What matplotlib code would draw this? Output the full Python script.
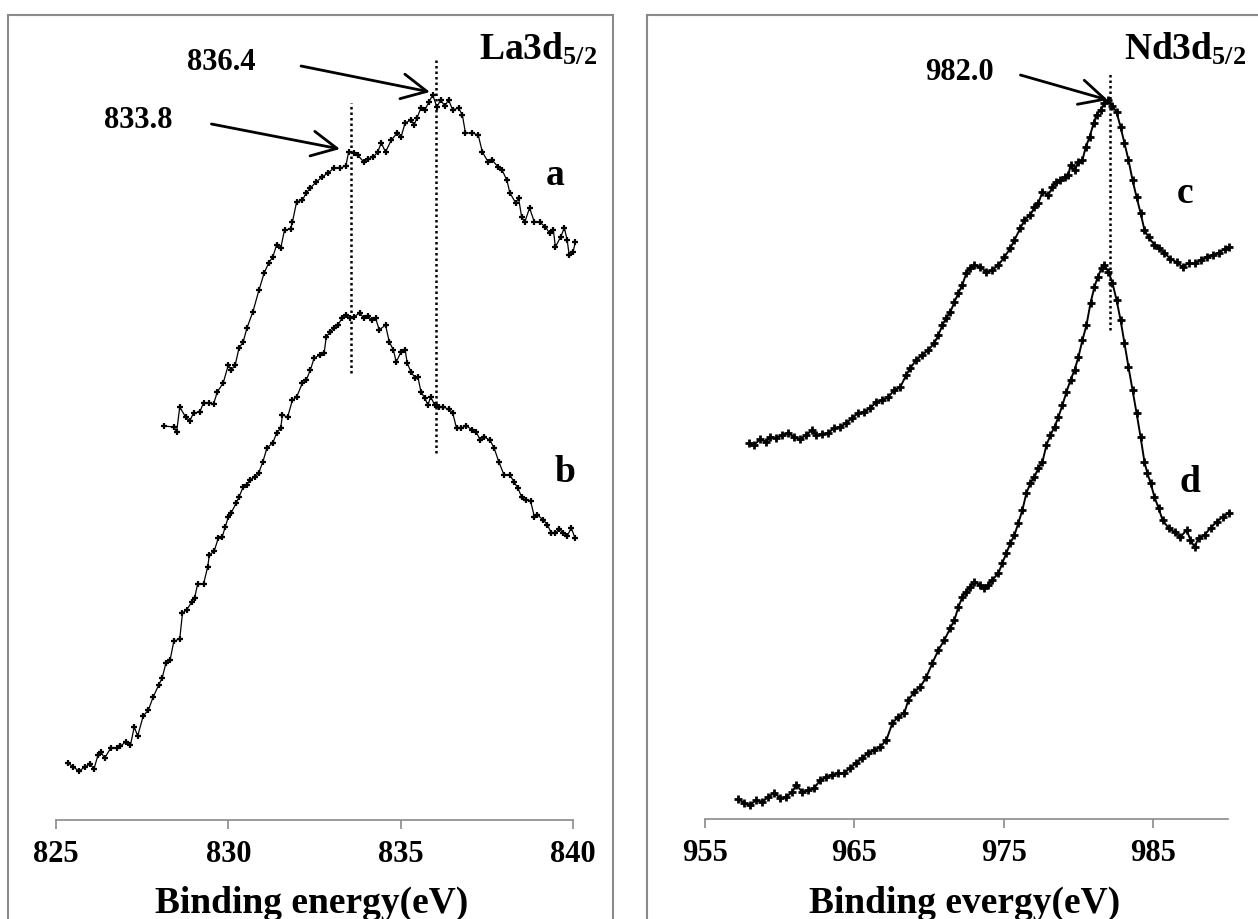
import matplotlib
matplotlib.use("Agg")
import matplotlib.pyplot as plt
from matplotlib.patches import Rectangle

plt.rcParams['font.family'] = ['Liberation Serif', 'DejaVu Serif']
plt.rcParams['font.weight'] = 'bold'
plt.rcParams['mathtext.fontset'] = 'custom'
plt.rcParams['mathtext.rm'] = 'Liberation Serif:bold'
plt.rcParams['mathtext.it'] = 'Liberation Serif:bold'
plt.rcParams['mathtext.bf'] = 'Liberation Serif:bold'

# La3d5/2 spectra, binding energy (eV) and intensity (a.u.)
la_a_e = [828.13, 828.42, 828.50, 828.59, 828.76, 828.88, 828.99, 829.17, 829.28, 829.45,
          829.57, 829.68, 829.85, 830.00, 830.08, 830.20, 830.31, 830.43, 830.54, 830.71,
          830.89, 831.04, 831.17, 831.29, 831.40, 831.52, 831.63, 831.81, 831.86, 831.98,
          832.15, 832.26, 832.38, 832.55, 832.72, 832.89, 833.07, 833.24, 833.41, 833.49,
          833.64, 833.75, 833.93, 834.04, 834.21, 834.33, 834.44, 834.56, 834.73, 834.90,
          835.01, 835.13, 835.30, 835.39, 835.47, 835.59, 835.70, 835.82, 835.93, 836.05,
          836.16, 836.28, 836.39, 836.51, 836.68, 836.79, 836.88, 837.08, 837.25, 837.37,
          837.54, 837.65, 837.83, 837.94, 838.08, 838.17, 838.34, 838.42, 838.51, 838.60,
          838.74, 838.88, 839.03, 839.20, 839.32, 839.43, 839.49, 839.64, 839.75, 839.83,
          839.89, 840.00, 840.07]
la_a_i = [394, 393, 388, 413, 403, 399, 407, 408, 417, 417,
          416, 428, 437, 455, 450, 455, 472, 478, 492, 508,
          530, 547, 557, 563, 575, 572, 590, 591, 598, 618,
          620, 627, 632, 638, 643, 647, 652, 652, 654, 668,
          667, 665, 658, 661, 663, 668, 677, 668, 680, 687,
          683, 697, 700, 695, 702, 712, 710, 718, 725, 713,
          720, 714, 720, 710, 712, 705, 687, 687, 685, 668,
          658, 660, 653, 650, 640, 627, 617, 622, 603, 598,
          612, 598, 598, 593, 587, 590, 573, 583, 592, 580,
          565, 568, 578]

la_b_e = [825.35, 825.50, 825.67, 825.84, 825.99, 826.10, 826.22, 826.30, 826.41, 826.59,
          826.76, 826.87, 827.02, 827.16, 827.27, 827.37, 827.53, 827.68, 827.82, 827.98,
          828.08, 828.19, 828.31, 828.42, 828.59, 828.67, 828.79, 828.94, 829.02, 829.11,
          829.28, 829.40, 829.45, 829.59, 829.71, 829.82, 829.91, 830.00, 830.08, 830.23,
          830.31, 830.43, 830.54, 830.62, 830.77, 830.88, 831.00,
          831.12, 831.29, 831.40, 831.52, 831.57, 831.72, 831.86, 831.98, 832.15, 832.26,
          832.38, 832.49, 832.66, 832.78, 832.84, 832.95, 833.07, 833.18, 833.30, 833.41,
          833.52, 833.64, 833.81, 833.93, 834.04, 834.16, 834.27, 834.38, 834.56, 834.67,
          834.79, 834.87, 835.01, 835.13, 835.19, 835.30, 835.42, 835.50, 835.59, 835.70,
          835.79, 835.87, 835.99, 836.10, 836.22, 836.39, 836.51, 836.62, 836.74, 836.91,
          837.08, 837.19, 837.31, 837.42, 837.59, 837.71,
          837.85, 838.00, 838.17, 838.29, 838.40, 838.51, 838.63, 838.77, 838.88, 838.97,
          839.14, 839.26, 839.37, 839.49, 839.60, 839.72, 839.83, 839.95, 840.06]
la_b_i = [57, 53, 49, 53, 56, 51, 65, 68, 62, 72,
          72, 74, 78, 75, 93, 84, 104, 110, 123, 135,
          142, 157, 160, 179, 181, 207, 210, 218, 222, 236,
          236, 253, 265, 269, 282, 283, 293, 303, 307, 317,
          323, 333, 335, 340, 343, 347, 358,
          372, 377, 387, 392, 405, 403, 420, 423, 437, 440,
          450, 462, 465, 467, 483, 488, 492, 495, 502, 505,
          502, 503, 507, 502, 504, 500, 502, 490, 495, 478,
          470, 458, 468, 470, 457, 448, 442, 443, 428, 422,
          415, 423, 415, 413, 413, 411, 407, 392, 392, 394,
          390, 388, 380, 383, 380, 372,
          358, 345, 345, 338, 332, 323, 320, 319, 303, 305,
          300, 295, 287, 287, 291, 287, 284, 292, 282]

# Nd3d5/2 spectra
nd_c_e = [957.97, 958.29, 958.70, 959.10, 959.37, 959.77, 960.17, 960.57, 960.97, 961.38,
          961.78, 962.18, 962.45, 962.85, 963.25, 963.65, 964.05, 964.46, 964.86, 965.26,
          965.66, 966.06, 966.47, 966.87, 967.27, 967.67, 968.07, 968.47, 968.74, 969.14,
          969.55, 969.95, 970.35, 970.62, 970.89, 971.15, 971.42, 971.69, 971.96, 972.22,
          972.49, 972.76, 973.03, 973.43, 973.83, 974.23, 974.64, 975.04, 975.44, 975.71,
          976.11, 976.38, 976.78, 977.05, 977.31, 977.58, 977.98, 978.25, 978.52, 978.79,
          979.06, 979.32, 979.46, 979.73, 979.99, 980.26, 980.48, 980.74, 981.01, 981.20,
          981.47, 981.73, 982.00, 982.27, 982.54, 982.81, 983.07, 983.34, 983.61, 983.88,
          984.15, 984.41, 984.68, 985.08, 985.35, 985.75, 986.15, 986.56, 986.96, 987.36,
          987.76, 988.16, 988.57, 988.97, 989.37, 989.77, 990.04]
nd_c_i = [376, 374, 380, 377, 382, 381, 384, 386, 382, 380,
          384, 389, 384, 385, 386, 391, 392, 396, 401, 406,
          407, 411, 417, 419, 422, 429, 432, 444, 451, 459,
          464, 469, 476, 484, 494, 501, 507, 517, 526, 534,
          546, 551, 554, 552, 547, 549, 554, 562, 571, 579,
          591, 599, 604, 612, 616, 627, 624, 632, 637, 639,
          642, 644, 654, 649, 657, 659, 672, 682, 696, 704,
          709, 716, 719, 713, 707, 692, 676, 659, 639, 622,
          606, 589, 582, 574, 571, 566, 560, 557, 552, 556,
          556, 559, 562, 564, 566, 570, 572]

nd_d_e = [957.22, 957.63, 958.03, 958.43, 958.83, 959.23, 959.63, 960.04, 960.44, 960.84,
          961.11, 961.51, 961.91, 962.31, 962.72, 963.12, 963.52, 963.92, 964.32, 964.72,
          965.13, 965.53, 965.93, 966.33, 966.73, 967.14, 967.54, 967.94, 968.34, 968.61,
          969.01, 969.41, 969.81, 970.22, 970.62, 971.02, 971.42, 971.69, 971.96, 972.22,
          972.49, 972.76, 973.03, 973.43, 973.70, 973.97, 974.23, 974.64, 974.90, 975.17,
          975.44, 975.71, 975.97, 976.24, 976.51, 976.78, 977.05, 977.31, 977.58, 977.85,
          978.12, 978.39, 978.65, 978.92, 979.19, 979.46, 979.73, 979.99, 980.26, 980.53,
          980.80, 981.06, 981.28, 981.55, 981.73, 982.00, 982.27, 982.54, 982.81, 983.07,
          983.34, 983.61, 983.88, 984.15, 984.41, 984.60, 984.82, 985.08, 985.35, 985.62,
          986.02, 986.42, 986.82, 987.23, 987.49, 987.76, 988.03, 988.43, 988.83, 989.24,
          989.64, 990.04]
nd_d_i = [20, 16, 14, 19, 17, 22, 26, 21, 22, 27,
          34, 27, 29, 31, 39, 42, 44, 46, 46, 51,
          56, 61, 66, 69, 72, 79, 96, 102, 106, 119,
          127, 132, 142, 156, 169, 179, 191, 199, 212, 222,
          227, 232, 237, 234, 231, 234, 239, 246, 256, 266,
          276, 284, 296, 309, 326, 336, 342, 351, 357, 374,
          384, 392, 402, 414, 427, 439, 449, 462, 479, 494,
          516, 532, 542, 551, 554, 547, 536, 519, 499, 476,
          452, 429, 406, 382, 357, 346, 336, 322, 311, 299,
          291, 287, 282, 289, 279, 272, 281, 284, 291, 297,
          302, 306]

la_ticks = [825, 830, 835, 840]
nd_ticks = [955, 965, 975, 985]

GREY = '#8a8a8a'
W, H = 1258, 919
fig = plt.figure(figsize=(W / 100, H / 100), dpi=100)


def px_box(x0, x1, y_bot, y_top):
    return [x0 / W, 1 - y_bot / H, (x1 - x0) / W, (y_bot - y_top) / H]


def style_axis(ax, xlim, ticks, ytop):
    ax.set_xlim(*xlim)
    ax.set_ylim(0, ytop)
    for side in ('left', 'right', 'top'):
        ax.spines[side].set_visible(False)
    ax.spines['bottom'].set_color(GREY)
    ax.spines['bottom'].set_linewidth(1.2)
    ax.set_yticks([])
    ax.set_xticks(ticks)
    ax.tick_params(axis='x', direction='out', length=6.5, width=1.2, color=GREY,
                   pad=8, labelsize=22)
    ax.patch.set_visible(False)


def spectrum(ax, e, i, lw=0.9, ms=5, mew=1.6):
    ax.plot(e, i, color='black', lw=lw, marker='+', ms=ms, mew=mew, clip_on=False)


def arrow(ax, tip, tail):
    ax.annotate('', xy=tip, xytext=tail,
                arrowprops=dict(arrowstyle='->,head_length=0.9,head_width=0.45', lw=2,
                                color='black', shrinkA=0, shrinkB=0, mutation_scale=20))


# chart-area frames
fig.add_artist(Rectangle((8 / W, -0.1), 605 / W, 1.1 - 15 / H, transform=fig.transFigure,
                         fill=False, edgecolor=GREY, lw=1.5))
fig.add_artist(Rectangle((647 / W, -0.1), 0.5, 1.1 - 15 / H, transform=fig.transFigure,
                         fill=False, edgecolor=GREY, lw=1.5))

# left panel
ax1 = fig.add_axes(px_box(56, 573, 820, 15))
style_axis(ax1, (825, 840), la_ticks, 805)
spectrum(ax1, la_a_e, la_a_i)
spectrum(ax1, la_b_e, la_b_i)
ax1.vlines(833.56, 447, 717, colors='black', linestyles=(0, (1, 1.2)), lw=1.8)
ax1.vlines(836.02, 367, 763, colors='black', linestyles=(0, (1, 1.2)), lw=1.8)
arrow(ax1, (833.24, 671), (829.51, 696))
arrow(ax1, (835.85, 728), (832.11, 754))
ax1.text(827.4, 700, '833.8', fontsize=22, ha='center', va='center')
ax1.text(829.79, 758, '836.4', fontsize=22, ha='center', va='center')
ax1.text(837.27, 760, r'La3d$_{5/2}$', fontsize=27, ha='left', va='baseline')
ax1.text(839.48, 635, 'a', fontsize=27, ha='center', va='baseline')
ax1.text(839.77, 338, 'b', fontsize=27, ha='center', va='baseline')

# right panel (denser scan, drawn heavier)
ax2 = fig.add_axes(px_box(705, 1228, 819, 15))
style_axis(ax2, (955, 990), nd_ticks, 804)
spectrum(ax2, nd_c_e, nd_c_i, lw=1.4, ms=6, mew=2.0)
spectrum(ax2, nd_d_e, nd_d_i, lw=1.4, ms=6, mew=2.0)
ax2.vlines(982.1, 489, 747, colors='black', linestyles=(0, (1, 1.2)), lw=1.8)
arrow(ax2, (981.96, 719), (976.11, 744))
ax2.text(972.04, 747, '982.0', fontsize=22, ha='center', va='center')
ax2.text(983.03, 759, r'Nd3d$_{5/2}$', fontsize=27, ha='left', va='baseline')
ax2.text(987.1, 616, 'c', fontsize=27, ha='center', va='baseline')
ax2.text(987.44, 327, 'd', fontsize=27, ha='center', va='baseline')

fig.text(312 / W, 1 - 913 / H, 'Binding energy(eV)', fontsize=27, ha='center', va='baseline')
fig.text(965 / W, 1 - 913 / H, 'Binding evergy(eV)', fontsize=27, ha='center', va='baseline')

fig.savefig('out.png', dpi=100)
